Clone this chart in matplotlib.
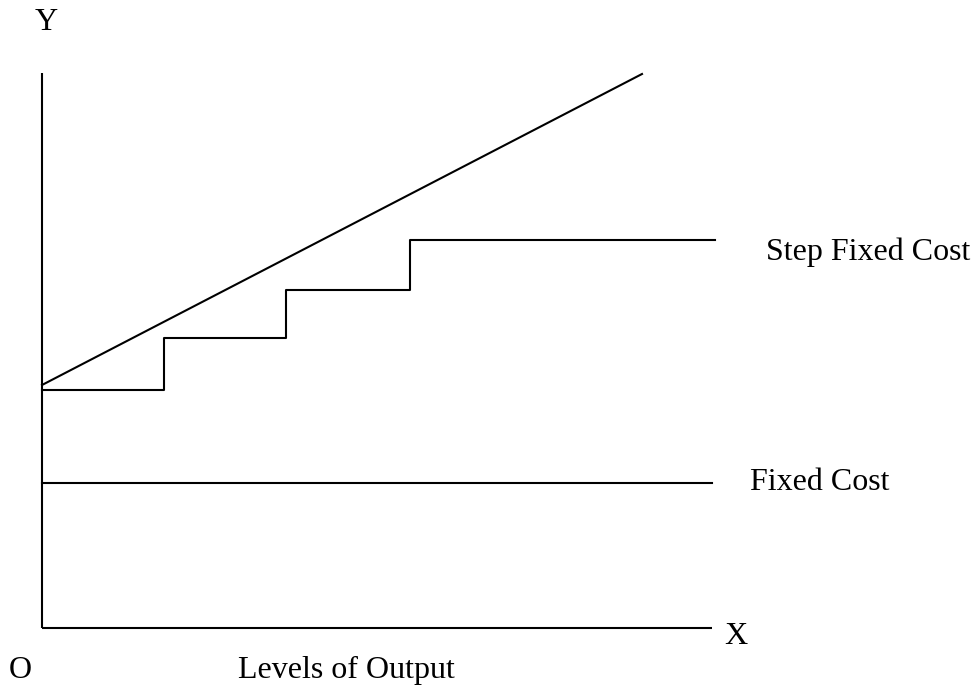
import matplotlib
matplotlib.use("Agg")
import matplotlib.pyplot as plt

# Data (units: output level vs. cost, origin at O)
total_x = [0, 600]
total_y = [243, 554]

step_x = [0, 122, 244, 368, 673]
step_levels = [238, 290, 338, 388]

fixed_x = [0, 670]
fixed_y = [145, 145]

axis_x_end = 670
axis_y_end = 555

labels = {"step": "Step Fixed Cost", "fixed": "Fixed Cost",
          "xlabel": "Levels of Output", "x": "X", "y": "Y", "o": "O"}

plt.rcParams['font.family'] = ['Liberation Serif', 'DejaVu Serif']

fig = plt.figure(figsize=(9.74, 6.91), dpi=100)
ax = fig.add_axes([0, 0, 1, 1])
ax.set_xlim(-42, 932)
ax.set_ylim(-63, 628)
ax.axis('off')

lw = 1.5
# axes
ax.plot([0, 0], [0, axis_y_end], color='black', lw=lw, solid_capstyle='butt')
ax.plot([0, axis_x_end], [0, 0], color='black', lw=lw, solid_capstyle='butt')

# total cost line
ax.plot(total_x, total_y, color='black', lw=lw)

# step fixed cost
sx, sy = [], []
for i, lvl in enumerate(step_levels):
    sx += [step_x[i], step_x[i + 1]]
    sy += [lvl, lvl]
ax.plot(sx, sy, color='black', lw=lw)

# fixed cost
ax.plot(fixed_x, fixed_y, color='black', lw=lw)

fs = 23
ax.text(4, 606, labels["y"], fontsize=fs, ha='center', va='center')
ax.text(694, -9, labels["x"], fontsize=fs, ha='center', va='center')
ax.text(-22, -42, labels["o"], fontsize=fs, ha='center', va='center')
ax.text(304, -42, labels["xlabel"], fontsize=fs, ha='center', va='center')
ax.text(724, step_levels[-1] - 12, labels["step"], fontsize=fs, ha='left', va='center')
ax.text(708, fixed_y[0], labels["fixed"], fontsize=fs, ha='left', va='center')

fig.savefig("out.png", dpi=100)
